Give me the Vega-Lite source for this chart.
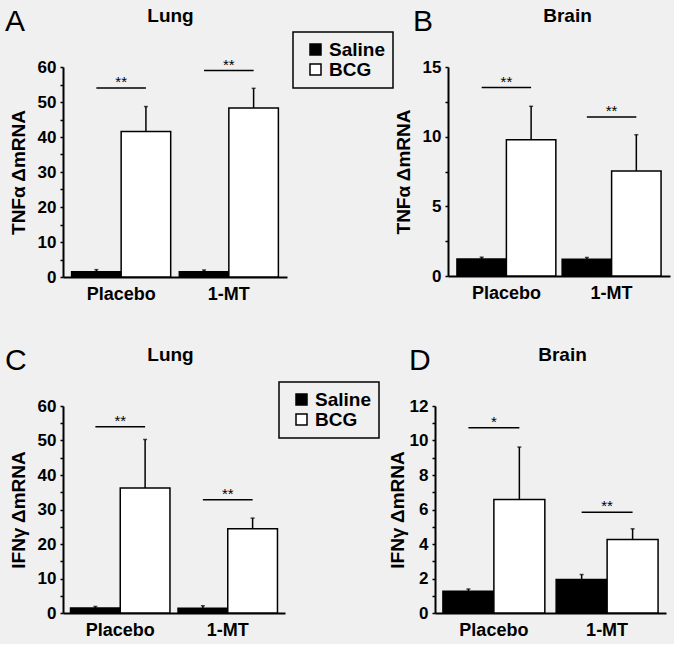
{
  "$schema": "https://vega.github.io/schema/vega-lite/v6.json",
  "background": "#f0f0f0",
  "padding": {"left": 5, "top": 6, "right": 5, "bottom": 5},
  "spacing": 42,
  "resolve": {"scale": {"fill": "independent", "y": "independent", "x": "independent", "xOffset": "independent"}, "legend": {"fill": "independent"}},
  "vconcat": [
    {
      "spacing": 0,
      "resolve": {"scale": {"fill": "independent", "y": "independent", "x": "independent", "xOffset": "independent"}, "legend": {"fill": "independent"}},
      "hconcat": [
        {
          "width": 224, "height": 210,
          "title": {"text": "A", "dx": -58, "dy": 35},
          "data": {"values": [
            {"treatment": "Placebo", "group": "Saline", "mean": 1.5, "upper": 2.1, "sig": 54, "star": "**"},
            {"treatment": "Placebo", "group": "BCG", "mean": 41.6, "upper": 48.7, "sig": 54, "star": "**"},
            {"treatment": "1-MT", "group": "Saline", "mean": 1.5, "upper": 2.0, "sig": 59, "star": "**"},
            {"treatment": "1-MT", "group": "BCG", "mean": 48.3, "upper": 53.9, "sig": 59, "star": "**"}
          ]},
          "resolve": {"axis": {"x": "independent"}},
          "layer": [
            {
              "mark": {"type": "bar", "stroke": "black", "strokeWidth": 1.5},
              "encoding": {
                "x": {"field": "treatment", "type": "nominal", "sort": ["Placebo", "1-MT"], "scale": {"paddingInner": 0.08, "paddingOuter": 0.08}, "axis": {"title": null, "orient": "bottom"}},
                "xOffset": {"field": "group", "type": "nominal", "sort": ["Saline", "BCG"], "scale": {"paddingInner": 0, "paddingOuter": 0}},
                "y": {"field": "mean", "type": "quantitative", "scale": {"domain": [0, 60], "nice": false}, "axis": {"title": "TNFα ΔmRNA", "values": [0, 5, 10, 15, 20, 25, 30, 35, 40, 45, 50, 55, 60], "labelExpr": "datum.value % 10 === 0 ? datum.label : ''", "labelOverlap": false, "titlePadding": 9}},
                "fill": {"field": "group", "type": "nominal", "scale": {"domain": ["Saline", "BCG"], "range": ["black", "white"]}, "legend": {"orient": "none", "legendX": 230, "legendY": -35}}
              }
            },
            {
              "mark": {"type": "rule", "color": "black", "strokeWidth": 1.5},
              "encoding": {
                "x": {"field": "treatment", "type": "nominal", "sort": ["Placebo", "1-MT"], "axis": null},
                "xOffset": {"field": "group", "type": "nominal", "sort": ["Saline", "BCG"]},
                "y": {"field": "mean", "type": "quantitative", "axis": {"title": "TNFα ΔmRNA", "values": [0, 5, 10, 15, 20, 25, 30, 35, 40, 45, 50, 55, 60], "labelExpr": "datum.value % 10 === 0 ? datum.label : ''", "labelOverlap": false, "titlePadding": 9}},
                "y2": {"field": "upper"}
              }
            },
            {
              "mark": {"type": "tick", "color": "black", "thickness": 1.5, "size": 4},
              "encoding": {
                "x": {"field": "treatment", "type": "nominal", "sort": ["Placebo", "1-MT"], "axis": null},
                "xOffset": {"field": "group", "type": "nominal", "sort": ["Saline", "BCG"]},
                "y": {"field": "upper", "type": "quantitative", "axis": {"title": "TNFα ΔmRNA", "values": [0, 5, 10, 15, 20, 25, 30, 35, 40, 45, 50, 55, 60], "labelExpr": "datum.value % 10 === 0 ? datum.label : ''", "labelOverlap": false, "titlePadding": 9}}
              }
            },
            {
              "mark": {"type": "line", "color": "black", "strokeWidth": 1.5},
              "encoding": {
                "x": {"field": "treatment", "type": "nominal", "sort": ["Placebo", "1-MT"], "axis": null},
                "xOffset": {"field": "group", "type": "nominal", "sort": ["Saline", "BCG"]},
                "y": {"field": "sig", "type": "quantitative", "axis": {"title": "TNFα ΔmRNA", "values": [0, 5, 10, 15, 20, 25, 30, 35, 40, 45, 50, 55, 60], "labelExpr": "datum.value % 10 === 0 ? datum.label : ''", "labelOverlap": false, "titlePadding": 9}},
                "detail": {"field": "treatment"}
              }
            },
            {
              "transform": [{"filter": "datum.group === 'Saline'"}],
              "mark": {"type": "text", "fontSize": 15, "baseline": "alphabetic", "dy": -1, "color": "black"},
              "encoding": {
                "x": {"field": "treatment", "type": "nominal", "sort": ["Placebo", "1-MT"], "axis": {"orient": "top", "title": "Lung", "labels": false, "ticks": false, "domain": false, "titleFontSize": 19, "titlePadding": 42, "titleX": 107}},
                "y": {"field": "sig", "type": "quantitative", "axis": {"title": "TNFα ΔmRNA", "values": [0, 5, 10, 15, 20, 25, 30, 35, 40, 45, 50, 55, 60], "labelExpr": "datum.value % 10 === 0 ? datum.label : ''", "labelOverlap": false, "titlePadding": 9}},
                "text": {"field": "star"}
              }
            }
          ]
        },
        {
          "width": 222, "height": 209,
          "title": {"text": "B", "dx": -35, "dy": 35},
          "data": {"values": [
            {"treatment": "Placebo", "group": "Saline", "mean": 1.22, "upper": 1.35, "sig": 13.52, "star": "**"},
            {"treatment": "Placebo", "group": "BCG", "mean": 9.78, "upper": 12.18, "sig": 13.52, "star": "**"},
            {"treatment": "1-MT", "group": "Saline", "mean": 1.2, "upper": 1.33, "sig": 11.41, "star": "**"},
            {"treatment": "1-MT", "group": "BCG", "mean": 7.54, "upper": 10.14, "sig": 11.41, "star": "**"}
          ]},
          "resolve": {"axis": {"x": "independent"}},
          "layer": [
            {
              "mark": {"type": "bar", "stroke": "black", "strokeWidth": 1.5},
              "encoding": {
                "x": {"field": "treatment", "type": "nominal", "sort": ["Placebo", "1-MT"], "scale": {"paddingInner": 0.06, "paddingOuter": 0.085}, "axis": {"title": null, "orient": "bottom"}},
                "xOffset": {"field": "group", "type": "nominal", "sort": ["Saline", "BCG"], "scale": {"paddingInner": 0, "paddingOuter": 0}},
                "y": {"field": "mean", "type": "quantitative", "scale": {"domain": [0, 15], "nice": false}, "axis": {"title": "TNFα ΔmRNA", "values": [0, 2.5, 5, 7.5, 10, 12.5, 15], "labelExpr": "datum.value % 5 === 0 ? datum.label : ''", "labelOverlap": false, "titlePadding": 9}},
                "fill": {"field": "group", "type": "nominal", "scale": {"domain": ["Saline", "BCG"], "range": ["black", "white"]}, "legend": null}
              }
            },
            {
              "mark": {"type": "rule", "color": "black", "strokeWidth": 1.5},
              "encoding": {
                "x": {"field": "treatment", "type": "nominal", "sort": ["Placebo", "1-MT"], "axis": null},
                "xOffset": {"field": "group", "type": "nominal", "sort": ["Saline", "BCG"]},
                "y": {"field": "mean", "type": "quantitative", "axis": {"title": "TNFα ΔmRNA", "values": [0, 2.5, 5, 7.5, 10, 12.5, 15], "labelExpr": "datum.value % 5 === 0 ? datum.label : ''", "labelOverlap": false, "titlePadding": 9}},
                "y2": {"field": "upper"}
              }
            },
            {
              "mark": {"type": "tick", "color": "black", "thickness": 1.5, "size": 4},
              "encoding": {
                "x": {"field": "treatment", "type": "nominal", "sort": ["Placebo", "1-MT"], "axis": null},
                "xOffset": {"field": "group", "type": "nominal", "sort": ["Saline", "BCG"]},
                "y": {"field": "upper", "type": "quantitative", "axis": {"title": "TNFα ΔmRNA", "values": [0, 2.5, 5, 7.5, 10, 12.5, 15], "labelExpr": "datum.value % 5 === 0 ? datum.label : ''", "labelOverlap": false, "titlePadding": 9}}
              }
            },
            {
              "mark": {"type": "line", "color": "black", "strokeWidth": 1.5},
              "encoding": {
                "x": {"field": "treatment", "type": "nominal", "sort": ["Placebo", "1-MT"], "axis": null},
                "xOffset": {"field": "group", "type": "nominal", "sort": ["Saline", "BCG"]},
                "y": {"field": "sig", "type": "quantitative", "axis": {"title": "TNFα ΔmRNA", "values": [0, 2.5, 5, 7.5, 10, 12.5, 15], "labelExpr": "datum.value % 5 === 0 ? datum.label : ''", "labelOverlap": false, "titlePadding": 9}},
                "detail": {"field": "treatment"}
              }
            },
            {
              "transform": [{"filter": "datum.group === 'Saline'"}],
              "mark": {"type": "text", "fontSize": 15, "baseline": "alphabetic", "dy": -1, "color": "black"},
              "encoding": {
                "x": {"field": "treatment", "type": "nominal", "sort": ["Placebo", "1-MT"], "axis": {"orient": "top", "title": "Brain", "labels": false, "ticks": false, "domain": false, "titleFontSize": 19, "titlePadding": 42, "titleX": 119}},
                "y": {"field": "sig", "type": "quantitative", "axis": {"title": "TNFα ΔmRNA", "values": [0, 2.5, 5, 7.5, 10, 12.5, 15], "labelExpr": "datum.value % 5 === 0 ? datum.label : ''", "labelOverlap": false, "titlePadding": 9}},
                "text": {"field": "star"}
              }
            }
          ]
        }
      ]
    },
    {
      "spacing": 8,
      "resolve": {"scale": {"fill": "independent", "y": "independent", "x": "independent", "xOffset": "independent"}, "legend": {"fill": "independent"}},
      "hconcat": [
        {
          "width": 222, "height": 207,
          "title": {"text": "C", "dx": -58, "dy": 35},
          "data": {"values": [
            {"treatment": "Placebo", "group": "Saline", "mean": 1.45, "upper": 1.9, "sig": 54.0, "star": "**"},
            {"treatment": "Placebo", "group": "BCG", "mean": 36.2, "upper": 50.3, "sig": 54.0, "star": "**"},
            {"treatment": "1-MT", "group": "Saline", "mean": 1.4, "upper": 2.1, "sig": 32.8, "star": "**"},
            {"treatment": "1-MT", "group": "BCG", "mean": 24.4, "upper": 27.5, "sig": 32.8, "star": "**"}
          ]},
          "resolve": {"axis": {"x": "independent"}},
          "layer": [
            {
              "mark": {"type": "bar", "stroke": "black", "strokeWidth": 1.5},
              "encoding": {
                "x": {"field": "treatment", "type": "nominal", "sort": ["Placebo", "1-MT"], "scale": {"paddingInner": 0.075, "paddingOuter": 0.07}, "axis": {"title": null, "orient": "bottom"}},
                "xOffset": {"field": "group", "type": "nominal", "sort": ["Saline", "BCG"], "scale": {"paddingInner": 0, "paddingOuter": 0}},
                "y": {"field": "mean", "type": "quantitative", "scale": {"domain": [0, 60], "nice": false}, "axis": {"title": "IFNγ ΔmRNA", "values": [0, 5, 10, 15, 20, 25, 30, 35, 40, 45, 50, 55, 60], "labelExpr": "datum.value % 10 === 0 ? datum.label : ''", "labelOverlap": false, "titlePadding": 9}},
                "fill": {"field": "group", "type": "nominal", "scale": {"domain": ["Saline", "BCG"], "range": ["black", "white"]}, "legend": {"orient": "none", "legendX": 216, "legendY": -24}}
              }
            },
            {
              "mark": {"type": "rule", "color": "black", "strokeWidth": 1.5},
              "encoding": {
                "x": {"field": "treatment", "type": "nominal", "sort": ["Placebo", "1-MT"], "axis": null},
                "xOffset": {"field": "group", "type": "nominal", "sort": ["Saline", "BCG"]},
                "y": {"field": "mean", "type": "quantitative", "axis": {"title": "IFNγ ΔmRNA", "values": [0, 5, 10, 15, 20, 25, 30, 35, 40, 45, 50, 55, 60], "labelExpr": "datum.value % 10 === 0 ? datum.label : ''", "labelOverlap": false, "titlePadding": 9}},
                "y2": {"field": "upper"}
              }
            },
            {
              "mark": {"type": "tick", "color": "black", "thickness": 1.5, "size": 4},
              "encoding": {
                "x": {"field": "treatment", "type": "nominal", "sort": ["Placebo", "1-MT"], "axis": null},
                "xOffset": {"field": "group", "type": "nominal", "sort": ["Saline", "BCG"]},
                "y": {"field": "upper", "type": "quantitative", "axis": {"title": "IFNγ ΔmRNA", "values": [0, 5, 10, 15, 20, 25, 30, 35, 40, 45, 50, 55, 60], "labelExpr": "datum.value % 10 === 0 ? datum.label : ''", "labelOverlap": false, "titlePadding": 9}}
              }
            },
            {
              "mark": {"type": "line", "color": "black", "strokeWidth": 1.5},
              "encoding": {
                "x": {"field": "treatment", "type": "nominal", "sort": ["Placebo", "1-MT"], "axis": null},
                "xOffset": {"field": "group", "type": "nominal", "sort": ["Saline", "BCG"]},
                "y": {"field": "sig", "type": "quantitative", "axis": {"title": "IFNγ ΔmRNA", "values": [0, 5, 10, 15, 20, 25, 30, 35, 40, 45, 50, 55, 60], "labelExpr": "datum.value % 10 === 0 ? datum.label : ''", "labelOverlap": false, "titlePadding": 9}},
                "detail": {"field": "treatment"}
              }
            },
            {
              "transform": [{"filter": "datum.group === 'Saline'"}],
              "mark": {"type": "text", "fontSize": 15, "baseline": "alphabetic", "dy": -1, "color": "black"},
              "encoding": {
                "x": {"field": "treatment", "type": "nominal", "sort": ["Placebo", "1-MT"], "axis": {"orient": "top", "title": "Lung", "labels": false, "ticks": false, "domain": false, "titleFontSize": 19, "titlePadding": 42, "titleX": 107}},
                "y": {"field": "sig", "type": "quantitative", "axis": {"title": "IFNγ ΔmRNA", "values": [0, 5, 10, 15, 20, 25, 30, 35, 40, 45, 50, 55, 60], "labelExpr": "datum.value % 10 === 0 ? datum.label : ''", "labelOverlap": false, "titlePadding": 9}},
                "text": {"field": "star"}
              }
            }
          ]
        },
        {
          "width": 231, "height": 207,
          "title": {"text": "D", "dx": -26, "dy": 35},
          "data": {"values": [
            {"treatment": "Placebo", "group": "Saline", "mean": 1.26, "upper": 1.39, "sig": 10.74, "star": "*"},
            {"treatment": "Placebo", "group": "BCG", "mean": 6.58, "upper": 9.62, "sig": 10.74, "star": "*"},
            {"treatment": "1-MT", "group": "Saline", "mean": 1.94, "upper": 2.23, "sig": 5.84, "star": "**"},
            {"treatment": "1-MT", "group": "BCG", "mean": 4.26, "upper": 4.88, "sig": 5.84, "star": "**"}
          ]},
          "resolve": {"axis": {"x": "independent"}},
          "layer": [
            {
              "mark": {"type": "bar", "stroke": "black", "strokeWidth": 1.5},
              "encoding": {
                "x": {"field": "treatment", "type": "nominal", "sort": ["Placebo", "1-MT"], "scale": {"paddingInner": 0.1, "paddingOuter": 0.07}, "axis": {"title": null, "orient": "bottom"}},
                "xOffset": {"field": "group", "type": "nominal", "sort": ["Saline", "BCG"], "scale": {"paddingInner": 0, "paddingOuter": 0}},
                "y": {"field": "mean", "type": "quantitative", "scale": {"domain": [0, 12], "nice": false}, "axis": {"title": "IFNγ ΔmRNA", "values": [0, 1, 2, 3, 4, 5, 6, 7, 8, 9, 10, 11, 12], "labelExpr": "datum.value % 2 === 0 ? datum.label : ''", "labelOverlap": false, "titlePadding": 2}},
                "fill": {"field": "group", "type": "nominal", "scale": {"domain": ["Saline", "BCG"], "range": ["black", "white"]}, "legend": null}
              }
            },
            {
              "mark": {"type": "rule", "color": "black", "strokeWidth": 1.5},
              "encoding": {
                "x": {"field": "treatment", "type": "nominal", "sort": ["Placebo", "1-MT"], "axis": null},
                "xOffset": {"field": "group", "type": "nominal", "sort": ["Saline", "BCG"]},
                "y": {"field": "mean", "type": "quantitative", "axis": {"title": "IFNγ ΔmRNA", "values": [0, 1, 2, 3, 4, 5, 6, 7, 8, 9, 10, 11, 12], "labelExpr": "datum.value % 2 === 0 ? datum.label : ''", "labelOverlap": false, "titlePadding": 2}},
                "y2": {"field": "upper"}
              }
            },
            {
              "mark": {"type": "tick", "color": "black", "thickness": 1.5, "size": 4},
              "encoding": {
                "x": {"field": "treatment", "type": "nominal", "sort": ["Placebo", "1-MT"], "axis": null},
                "xOffset": {"field": "group", "type": "nominal", "sort": ["Saline", "BCG"]},
                "y": {"field": "upper", "type": "quantitative", "axis": {"title": "IFNγ ΔmRNA", "values": [0, 1, 2, 3, 4, 5, 6, 7, 8, 9, 10, 11, 12], "labelExpr": "datum.value % 2 === 0 ? datum.label : ''", "labelOverlap": false, "titlePadding": 2}}
              }
            },
            {
              "mark": {"type": "line", "color": "black", "strokeWidth": 1.5},
              "encoding": {
                "x": {"field": "treatment", "type": "nominal", "sort": ["Placebo", "1-MT"], "axis": null},
                "xOffset": {"field": "group", "type": "nominal", "sort": ["Saline", "BCG"]},
                "y": {"field": "sig", "type": "quantitative", "axis": {"title": "IFNγ ΔmRNA", "values": [0, 1, 2, 3, 4, 5, 6, 7, 8, 9, 10, 11, 12], "labelExpr": "datum.value % 2 === 0 ? datum.label : ''", "labelOverlap": false, "titlePadding": 2}},
                "detail": {"field": "treatment"}
              }
            },
            {
              "transform": [{"filter": "datum.group === 'Saline'"}],
              "mark": {"type": "text", "fontSize": 15, "baseline": "alphabetic", "dy": -1, "color": "black"},
              "encoding": {
                "x": {"field": "treatment", "type": "nominal", "sort": ["Placebo", "1-MT"], "axis": {"orient": "top", "title": "Brain", "labels": false, "ticks": false, "domain": false, "titleFontSize": 19, "titlePadding": 42, "titleX": 127}},
                "y": {"field": "sig", "type": "quantitative", "axis": {"title": "IFNγ ΔmRNA", "values": [0, 1, 2, 3, 4, 5, 6, 7, 8, 9, 10, 11, 12], "labelExpr": "datum.value % 2 === 0 ? datum.label : ''", "labelOverlap": false, "titlePadding": 2}},
                "text": {"field": "star"}
              }
            }
          ]
        }
      ]
    }
  ],
  "config": {
    "font": "Liberation Sans",
    "view": {"stroke": null},
    "axis": {
      "grid": false, "labelOverlap": false,
      "domainColor": "black", "domainWidth": 2,
      "tickColor": "black", "tickWidth": 1.5, "tickSize": 3,
      "labelFont": "Liberation Sans", "labelFontWeight": "bold", "labelFontSize": 17, "labelColor": "black", "labelPadding": 4,
      "titleFont": "Liberation Sans", "titleFontWeight": "bold", "titleFontSize": 19, "titleColor": "black"
    },
    "axisBottom": {"ticks": false, "labelFontSize": 18, "labelPadding": 8, "labelAngle": 0},
    "title": {"font": "Liberation Sans", "fontSize": 30, "fontWeight": "normal", "anchor": "start", "frame": "group", "color": "black"},
    "legend": {
      "title": null, "strokeColor": "black", "strokeWidth": 1.5, "padding": 8,
      "symbolType": "square", "symbolSize": 121, "symbolStrokeColor": "black", "symbolStrokeWidth": 1.5,
      "symbolOffset": 5, "labelOffset": 4,
      "labelFont": "Liberation Sans", "labelFontWeight": "bold", "labelFontSize": 19, "labelColor": "black", "rowPadding": 0
    }
  }
}
